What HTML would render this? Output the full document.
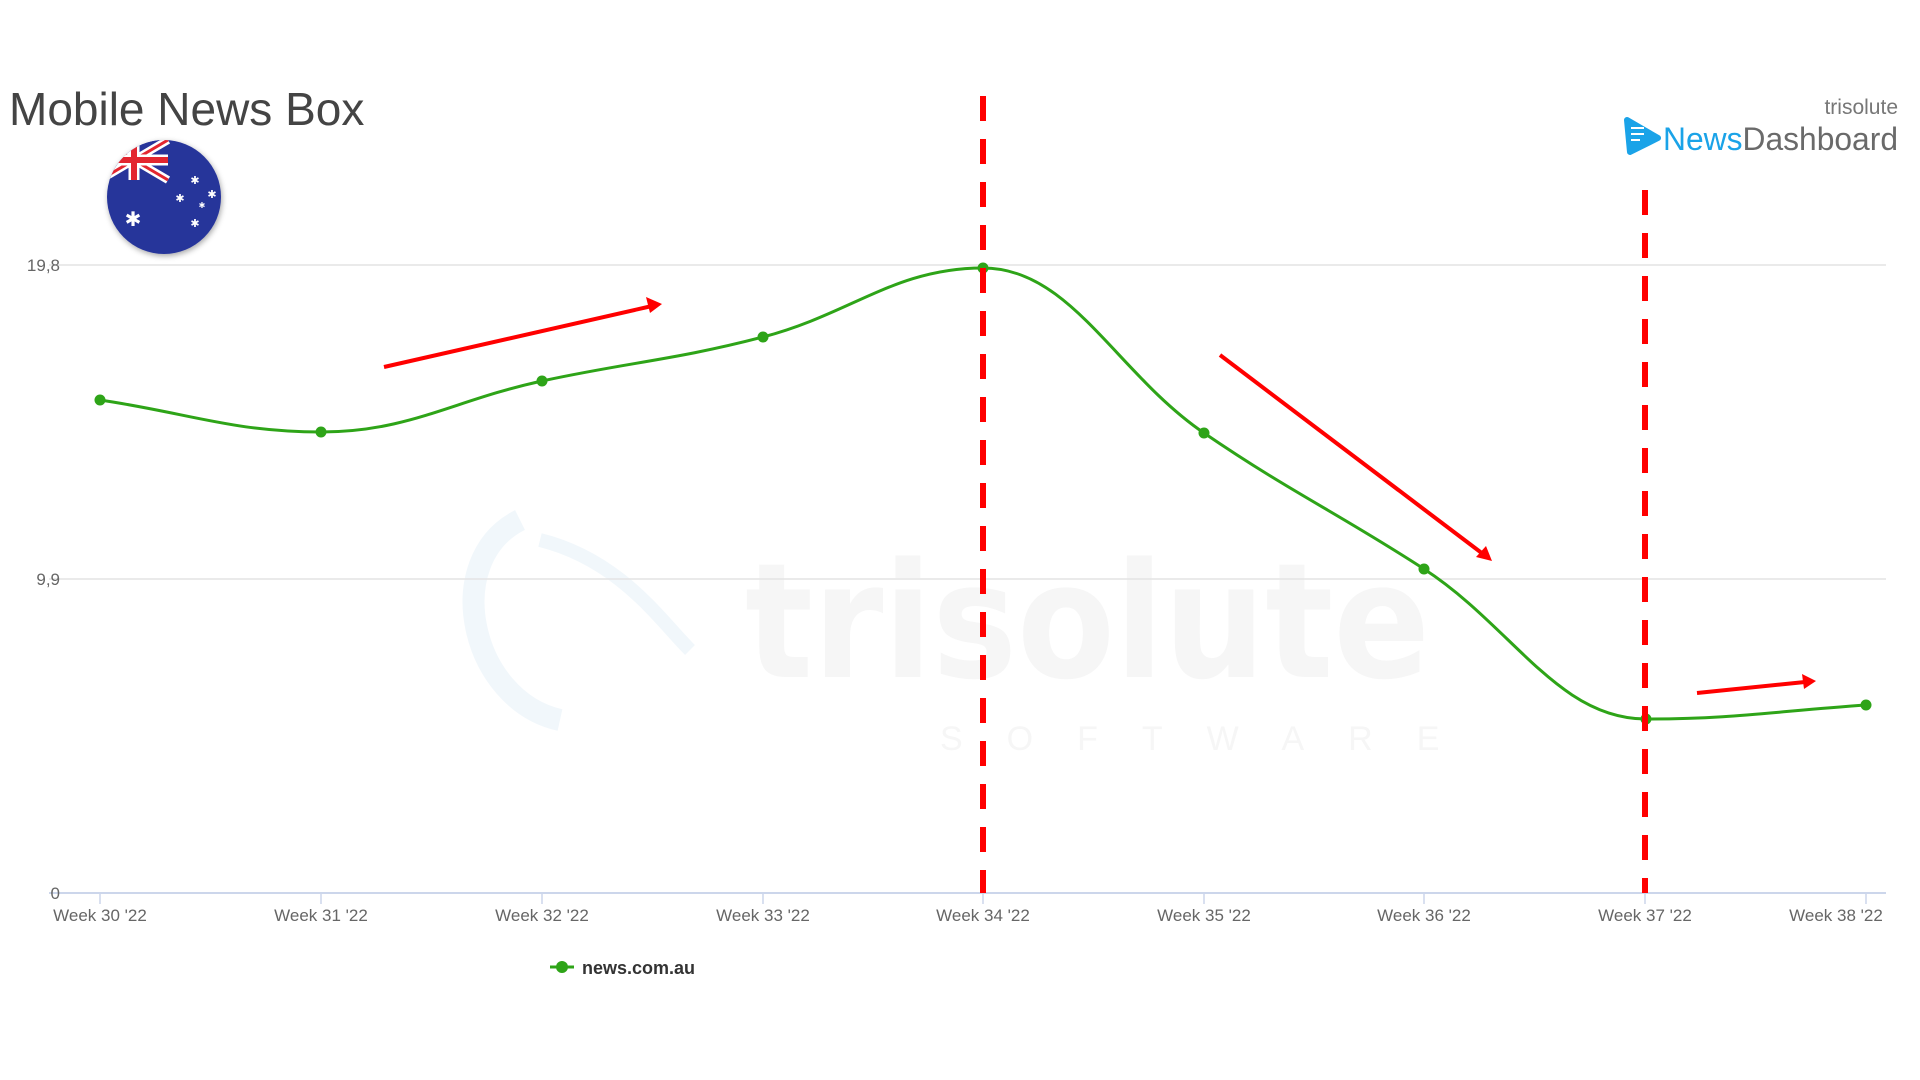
<!DOCTYPE html>
<html><head><meta charset="utf-8"><style>
html,body{margin:0;padding:0;background:#fff;width:1920px;height:1080px;overflow:hidden}
svg{display:block}
</style></head><body>
<svg width="1920" height="1080" viewBox="0 0 1920 1080" xmlns="http://www.w3.org/2000/svg" font-family="'Liberation Sans', 'DejaVu Sans', sans-serif">
<defs>
<clipPath id="fc"><circle cx="164" cy="197" r="57"/></clipPath>
<filter id="sh" x="-30%" y="-30%" width="160%" height="160%"><feDropShadow dx="1" dy="2" stdDeviation="3" flood-color="#000" flood-opacity="0.35"/></filter>
</defs>
<!-- watermark -->
<text x="745" y="677" font-size="160" font-weight="bold" fill="#f6f6f6" textLength="685" lengthAdjust="spacingAndGlyphs" font-family="'DejaVu Sans', sans-serif">trisolute</text>
<text x="940" y="750" font-size="34" fill="#f6f6f6" letter-spacing="44">SOFTWARE</text>
<path d="M520 520 C440 560 470 700 560 720" stroke="#f1f7fb" stroke-width="22" fill="none"/>
<path d="M540 540 C620 560 660 620 690 650" stroke="#f1f7fb" stroke-width="14" fill="none"/>
<!-- title -->
<text x="9" y="125" font-size="46" fill="#444">Mobile News Box</text>
<!-- flag -->
<g filter="url(#sh)"><circle cx="164" cy="197" r="57" fill="#27349a"/></g>
<g clip-path="url(#fc)">
<rect x="100" y="140" width="68" height="40" fill="#27349a"/>
<path d="M100 140 L168 180 M168 140 L100 180" stroke="#fff" stroke-width="8"/>
<path d="M100 140 L168 180 M168 140 L100 180" stroke="#e3262f" stroke-width="3"/>
<path d="M134 140 V180 M100 160 H168" stroke="#fff" stroke-width="11"/>
<path d="M134 140 V180 M100 160 H168" stroke="#e3262f" stroke-width="6"/>
</g>
<g fill="#fff" font-size="20" text-anchor="middle">
<text x="133" y="226">✱</text>
</g>
<g fill="#fff" font-size="11" text-anchor="middle">
<text x="195" y="184">✱</text><text x="180" y="202">✱</text><text x="212" y="198">✱</text><text x="202" y="208" font-size="8">✱</text><text x="195" y="227">✱</text>
</g>
<!-- logo -->
<text x="1898" y="114" font-size="21" fill="#777" text-anchor="end">trisolute</text>
<path d="M1627 120 L1630 152 L1658 138 Z" fill="#1aa3e8" stroke="#1aa3e8" stroke-width="6" stroke-linejoin="round"/>
<path d="M1631 128 h13 M1631 134 h13 M1631 140 h9" stroke="#fff" stroke-width="2"/>
<text x="1663" y="150" font-size="32" fill="#1aa3e8" textLength="235" lengthAdjust="spacingAndGlyphs">News<tspan fill="#6a6a6a">Dashboard</tspan></text>
<!-- grid -->
<g stroke="#e4e4e4" stroke-width="1.5">
<line x1="49" y1="265" x2="1886" y2="265"/>
<line x1="49" y1="579" x2="1886" y2="579"/>
</g>
<line x1="49" y1="893" x2="1886" y2="893" stroke="#ccd6eb" stroke-width="2"/>
<g stroke="#ccd6eb" stroke-width="1.5">
<line x1="100" y1="893" x2="100" y2="904"/><line x1="321" y1="893" x2="321" y2="904"/><line x1="542" y1="893" x2="542" y2="904"/><line x1="763" y1="893" x2="763" y2="904"/><line x1="983" y1="893" x2="983" y2="904"/><line x1="1204" y1="893" x2="1204" y2="904"/><line x1="1424" y1="893" x2="1424" y2="904"/><line x1="1645" y1="893" x2="1645" y2="904"/><line x1="1866" y1="893" x2="1866" y2="904"/>
</g>
<g font-size="17" fill="#666" text-anchor="end">
<text x="60" y="271">19,8</text><text x="60" y="585">9,9</text><text x="60" y="899">0</text>
</g>
<g font-size="17" fill="#666" text-anchor="middle">
<text x="100" y="921">Week 30 '22</text><text x="321" y="921">Week 31 '22</text><text x="542" y="921">Week 32 '22</text><text x="763" y="921">Week 33 '22</text><text x="983" y="921">Week 34 '22</text><text x="1204" y="921">Week 35 '22</text><text x="1424" y="921">Week 36 '22</text><text x="1645" y="921">Week 37 '22</text><text x="1836" y="921">Week 38 '22</text>
</g>
<!-- series -->
<path d="M100 400 C188 413 233 432 321 432 C409 432 454 400 542 381 C630 362 675 360 763 337 C851 314 895 268 983 268 C1071 268 1116 373 1204 433 C1292 493 1336 512 1424 569 C1512 626 1558 719 1646 719 C1734 719 1778 711 1866 705" fill="none" stroke="#2ea418" stroke-width="3"/>
<g fill="#2ea418">
<circle cx="100" cy="400" r="5.5"/><circle cx="321" cy="432" r="5.5"/><circle cx="542" cy="381" r="5.5"/><circle cx="763" cy="337" r="5.5"/><circle cx="983" cy="268" r="5.5"/><circle cx="1204" cy="433" r="5.5"/><circle cx="1424" cy="569" r="5.5"/><circle cx="1646" cy="719" r="5.5"/><circle cx="1866" cy="705" r="5.5"/>
</g>
<!-- red dashed -->
<g stroke="#f00" stroke-width="6" stroke-dasharray="25 18">
<line x1="983" y1="96" x2="983" y2="893"/>
<line x1="1645" y1="190" x2="1645" y2="893"/>
</g>
<!-- arrows -->
<g stroke="#f00" stroke-width="4" fill="#f00">
<line x1="384" y1="367" x2="652" y2="306"/>
<line x1="1220" y1="355" x2="1483" y2="554"/>
<line x1="1697" y1="693" x2="1805" y2="682"/>
</g>
<g fill="#f00">
<polygon points="662,304 646,297 650,313"/>
<polygon points="1492,561 1476,557 1486,546"/>
<polygon points="1816,681 1802,674 1804,689"/>
</g>
<!-- legend -->
<line x1="550" y1="967" x2="574" y2="967" stroke="#2ea418" stroke-width="3"/>
<circle cx="562" cy="967" r="6" fill="#2ea418"/>
<text x="582" y="974" font-size="18" font-weight="bold" fill="#333">news.com.au</text>
</svg>
</body></html>
